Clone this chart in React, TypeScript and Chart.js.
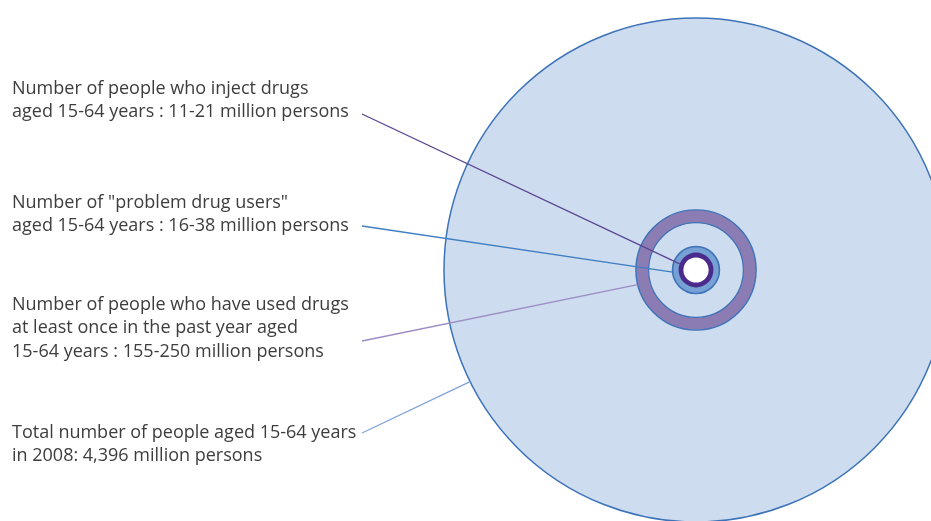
import React, { useEffect, useRef } from "react";
import { Chart, registerables } from "chart.js";

Chart.register(...registerables);

// ---- Data (millions of persons, aged 15-64, 2008) ----
const categories = [
  "People who inject drugs",
  "Problem drug users",
  "Past-year drug users",
  "Total population 15-64",
];
const lowMillions = [11, 16, 155, 4396];
const highMillions = [21, 38, 250, 4396];

const labelLines: string[][] = [
  ["Number of people who inject drugs", "aged 15-64 years : 11-21 million persons"],
  ['Number of "problem drug users"', "aged 15-64 years : 16-38 million persons"],
  [
    "Number of people who have used drugs",
    "at least once in the past year aged",
    "15-64 years : 155-250 million persons",
  ],
  ["Total number of people aged 15-64 years", "in 2008: 4,396 million persons"],
];

// ---- Layout (pixels in a 931x521 frame) ----
const W = 931;
const H = 521;
const CX = 696;
const CY = 270;
const R_TOTAL = 252; // pixel radius of the total-population circle
const TEXT_X = 12;
const TEXT_BASE_Y = [93.5, 207.5, 310, 437.5];
const LINE_H = 23.4;
const LEADER_START = [
  { x: 362, y: 114 },
  { x: 362, y: 226 },
  { x: 362, y: 341 },
  { x: 362, y: 433 },
];
const LEADER_ANGLE_DEG = [200.5, 174.6, 166, 153.7];
const LEADER_COLORS = ["#5a4392", "#3f7fc2", "#9c8dc6", "#7fa3d6"];

const FILL_LIGHT = "#cddcee";
const EDGE_BLUE = "#3d73b8";
const PURPLE = "#8c7cb4";
const BLUE_MID = "#77a0d4";
const NAVY = "#4a2a8b";

const total = highMillions[3];
const rad = (v: number) => R_TOTAL * Math.sqrt(v / total);

export default function App() {
  const ref = useRef<HTMLCanvasElement | null>(null);

  useEffect(() => {
    if (!ref.current) return;

    const bubble = (
      label: string,
      v: number,
      fill: string,
      border: string,
      bw: number,
      order: number
    ) => ({
      type: "bubble" as const,
      label,
      data: [{ x: CX, y: CY, r: rad(v) }],
      backgroundColor: fill,
      borderColor: border,
      borderWidth: bw,
      order,
      clip: false as any,
    });

    const leaders = LEADER_START.map((s, i) => {
      const a = (LEADER_ANGLE_DEG[i] * Math.PI) / 180;
      const r = rad(highMillions[i]);
      return {
        type: "line" as const,
        label: categories[i] + " leader",
        data: [
          { x: s.x, y: s.y },
          { x: CX + r * Math.cos(a), y: CY + r * Math.sin(a) },
        ],
        borderColor: LEADER_COLORS[i],
        borderWidth: 1.3,
        pointRadius: 0,
        fill: false,
        tension: 0,
        order: 0,
        clip: false as any,
      };
    });

    const textPlugin = {
      id: "labelsText",
      afterDraw(chart: any) {
        const { ctx, scales } = chart;
        ctx.save();
        ctx.fillStyle = "#3d3d3d";
        ctx.font = '18px "Open Sans"';
        ctx.textAlign = "left";
        ctx.textBaseline = "alphabetic";
        labelLines.forEach((lines, i) => {
          lines.forEach((t, j) => {
            ctx.fillText(
              t,
              scales.x.getPixelForValue(TEXT_X),
              scales.y.getPixelForValue(TEXT_BASE_Y[i] + j * LINE_H)
            );
          });
        });
        ctx.restore();
      },
    };

    const chart = new Chart(ref.current, {
      type: "bubble",
      data: {
        datasets: [
          ...leaders,
          bubble(categories[0] + " inner", lowMillions[0], "#ffffff", "#ffffff", 0, 1),
          bubble(categories[0], highMillions[0], NAVY, NAVY, 0, 2),
          bubble(categories[1], highMillions[1], BLUE_MID, EDGE_BLUE, 1.6, 3),
          bubble(categories[2] + " inner", lowMillions[2], FILL_LIGHT, EDGE_BLUE, 1.2, 4),
          bubble(categories[2], highMillions[2], PURPLE, EDGE_BLUE, 1.4, 5),
          bubble(categories[3], highMillions[3], FILL_LIGHT, EDGE_BLUE, 1.5, 6),
        ] as any,
      },
      options: {
        animation: false,
        responsive: false,
        events: [],
        layout: { padding: 0, autoPadding: false },
        plugins: {
          legend: { display: false },
          tooltip: { enabled: false },
        },
        scales: {
          x: { type: "linear", min: 0, max: W, display: false },
          y: { type: "linear", min: 0, max: H, reverse: true, display: false },
        },
      },
      plugins: [textPlugin],
    });

    return () => chart.destroy();
  }, []);

  return (
    <div style={{ position: "fixed", left: 0, top: 0, width: W, height: H, background: "#fff" }}>
      <canvas ref={ref} width={W} height={H} style={{ display: "block" }} />
    </div>
  );
}
